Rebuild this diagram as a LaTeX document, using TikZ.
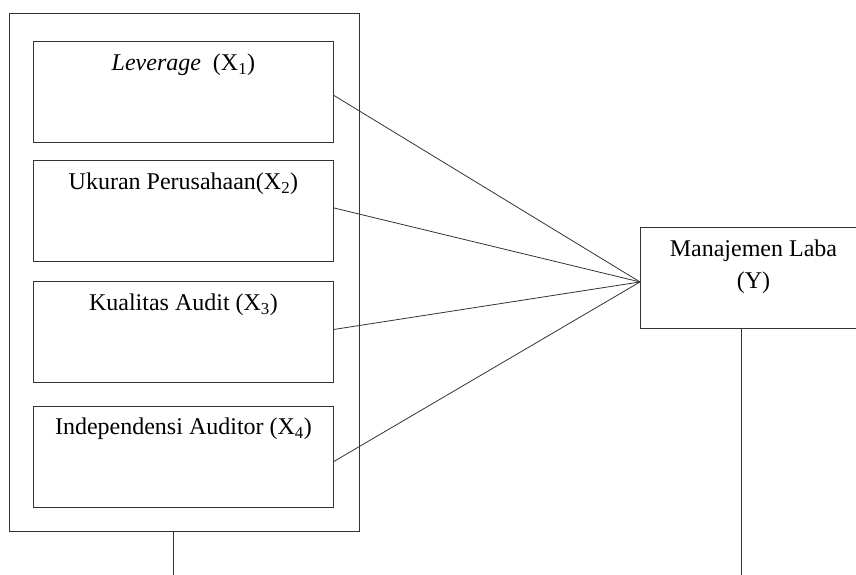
\documentclass[tikz,border=0pt]{standalone}
\usepackage{fontspec}
\setmainfont{Liberation Serif}
\begin{document}
\begin{tikzpicture}[x=1pt,y=-1pt,
  frame/.style={draw=black!80,line width=0.9pt},
  varbox/.style={frame,rectangle,anchor=north west,inner sep=0pt,
    minimum width=300pt,text height=29pt,text depth=72pt,
    font=\fontsize{24}{30}\selectfont},
  link/.style={draw=black!80,line width=0.8pt}]
\useasboundingbox (0,0) rectangle (856,575);
\clip (0,0) rectangle (856,575);

% group of independent variables
\node[frame,rectangle,anchor=north west,inner sep=0pt,
  minimum width=350pt,minimum height=518pt] (grp) at (9,13) {};
\node[varbox] (x1) at (33,41)  {\textit{Leverage}\ \ (X\textsubscript{1})};
\node[varbox] (x2) at (33,160) {Ukuran Perusahaan(X\textsubscript{2})};
\node[varbox] (x3) at (33,281) {Kualitas Audit (X\textsubscript{3})};
\node[varbox] (x4) at (33,405.5) {Independensi Auditor (X\textsubscript{4})};

% dependent variable
\node[frame,rectangle,anchor=north west,inner sep=0pt,
  minimum width=226pt,text height=29pt,text depth=72pt,
  font=\fontsize{24}{32}\selectfont] (y) at (640,227)
  {\parbox[t]{220pt}{\centering Manajemen Laba\\(Y)}};

% paths to the dependent variable
\coordinate (hub) at ([yshift=-4pt]y.west);
\draw[link] ([yshift=-3.5pt]x1.east) -- (hub);
\draw[link] ([yshift=3pt]x2.east) -- (hub);
\draw[link] ([yshift=2.5pt]x3.east) -- (hub);
\draw[link] ([yshift=-5pt]x4.east) -- (hub);

% vertical leads running off the bottom
\coordinate (d1) at (173.3,580);
\coordinate (d2) at (741.7,580);
\draw[link] (grp.south -| d1) -- (d1);
\draw[link] (y.south -| d2) -- (d2);
\end{tikzpicture}
\end{document}
